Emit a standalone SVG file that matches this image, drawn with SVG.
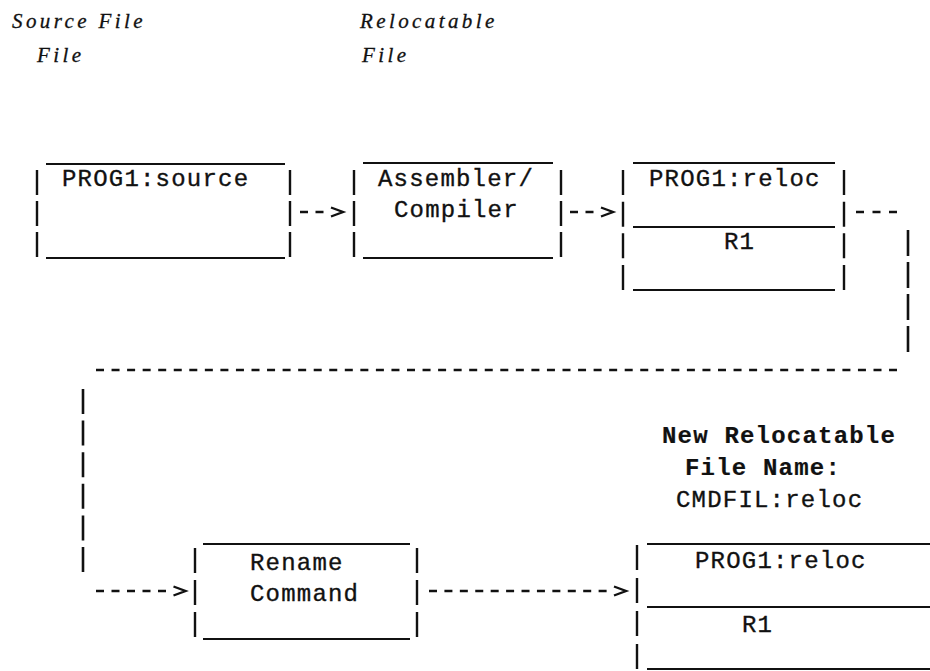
<svg xmlns="http://www.w3.org/2000/svg" width="930" height="671" viewBox="0 0 930 671">
<style>
.bg{fill:#fff}
.mono{font-family:"Liberation Mono","Courier New",monospace;font-size:24px;letter-spacing:1.2px;fill:#111;stroke:#111;stroke-width:0.35px}
.bold{font-weight:bold;stroke-width:0.2px}
.ital{font-family:"Liberation Serif","Times New Roman",serif;font-style:italic;font-size:21px;letter-spacing:3.4px;fill:#111;stroke:#111;stroke-width:0.3px}
.edge{stroke:#111;stroke-width:2;fill:none}
.bar{stroke:#111;stroke-width:2.4;fill:none}
.dash{stroke:#111;stroke-width:2.6;fill:none}
</style>
<defs>
<marker id="chev" markerUnits="userSpaceOnUse" viewBox="-2 -7 16 14" refX="0" refY="0" markerWidth="16" markerHeight="14" orient="auto" overflow="visible">
<path d="M0,-4.5 L12,0 L0,4.5" fill="none" stroke="#111" stroke-width="2.4" stroke-linejoin="miter"/>
</marker>
</defs>
<rect class="bg" x="0" y="0" width="930" height="671"/>

<g id="labels">
<text class="ital" x="12" y="28">Source File</text>
<text class="ital" x="37" y="62">File</text>
<text class="ital" x="360" y="28">Relocatable</text>
<text class="ital" x="362" y="62">File</text>
<text class="mono bold" x="662" y="443">New Relocatable</text>
<text class="mono bold" x="685" y="475">File Name:</text>
<text class="mono" x="676" y="507">CMDFIL:reloc</text>
</g>

<g id="node-source">
<line class="edge" x1="46" y1="164" x2="285" y2="164"/>
<line class="edge" x1="46" y1="258" x2="285" y2="258"/>
<line class="bar" x1="37" y1="170" x2="37" y2="257" stroke-dasharray="25 6"/>
<line class="bar" x1="290" y1="170" x2="290" y2="257" stroke-dasharray="25 6"/>
<text class="mono" x="62" y="186">PROG1:source</text>
</g>

<g id="node-assembler">
<line class="edge" x1="363" y1="163" x2="553" y2="163"/>
<line class="edge" x1="363" y1="258" x2="553" y2="258"/>
<line class="bar" x1="354" y1="170" x2="354" y2="257" stroke-dasharray="25 6"/>
<line class="bar" x1="561" y1="170" x2="561" y2="257" stroke-dasharray="25 6"/>
<text class="mono" x="378" y="186">Assembler/</text>
<text class="mono" x="394" y="217">Compiler</text>
</g>

<g id="node-reloc">
<line class="edge" x1="633" y1="163" x2="835" y2="163"/>
<line class="edge" x1="633" y1="227" x2="835" y2="227"/>
<line class="edge" x1="633" y1="290" x2="835" y2="290"/>
<line class="bar" x1="623" y1="170" x2="623" y2="290" stroke-dasharray="25 6.67"/>
<line class="bar" x1="844" y1="170" x2="844" y2="290" stroke-dasharray="25 6.67"/>
<text class="mono" x="649" y="186">PROG1:reloc</text>
<text class="mono" x="724" y="249">R1</text>
</g>

<g id="node-rename">
<line class="edge" x1="203" y1="544" x2="410" y2="544"/>
<line class="edge" x1="203" y1="639" x2="410" y2="639"/>
<line class="bar" x1="195" y1="548" x2="195" y2="637" stroke-dasharray="25 7"/>
<line class="bar" x1="417" y1="548" x2="417" y2="637" stroke-dasharray="25 7"/>
<text class="mono" x="250" y="570">Rename</text>
<text class="mono" x="250" y="601">Command</text>
</g>

<g id="node-newreloc">
<line class="edge" x1="647" y1="544" x2="930" y2="544"/>
<line class="edge" x1="647" y1="607" x2="930" y2="607"/>
<line class="edge" x1="647" y1="669" x2="930" y2="669"/>
<line class="bar" x1="637" y1="545" x2="637" y2="669" stroke-dasharray="25 8"/>
<text class="mono" x="695" y="568">PROG1:reloc</text>
<text class="mono" x="742" y="632">R1</text>
</g>

<g id="connectors">
<path class="dash" d="M300,212 H331" stroke-dasharray="8 7.5" marker-end="url(#chev)"/>
<path class="dash" d="M570,212 H601" stroke-dasharray="8 7.5" marker-end="url(#chev)"/>
<path class="dash" d="M856,212 H897" stroke-dasharray="8 8.5"/>
<path class="dash" d="M908,230 V352" stroke-dasharray="26 6"/>
<path class="dash" d="M96,370 H897" stroke-dasharray="8 7.55"/>
<path class="dash" d="M83,389 V572" stroke-dasharray="25 6.6"/>
<path class="dash" d="M96,591 H173.5" stroke-dasharray="8 7.5" marker-end="url(#chev)"/>
<path class="dash" d="M429,591 H614" stroke-dasharray="8 7.42" marker-end="url(#chev)"/>
</g>
</svg>
